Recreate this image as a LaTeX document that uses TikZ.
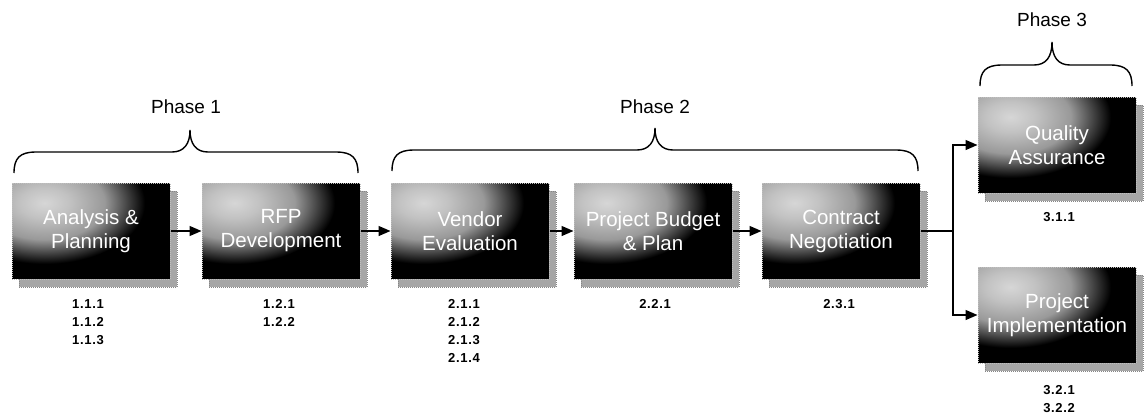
\documentclass[tikz,border=0pt]{standalone}
\usepackage{fontspec}
\setmainfont{Liberation Sans}
\newfontfamily\numfont[LetterSpace=5]{Liberation Sans}
\usetikzlibrary{arrows.meta,calc,patterns,shadows}

% soft light patch fading into black
\pgfdeclareradialshading{glow}{\pgfpoint{0bp}{0bp}}{%
  color(0bp)=(gray!32); color(5bp)=(gray!48); color(12bp)=(gray!80);
  color(20bp)=(black); color(50bp)=(black)}

% curly brace over a group of stages: left x, right x, tip x, bar y, tip y
\newcommand\phasebrace[5]{%
  \draw[bracestyle] (#1,#4+21) .. controls (#1,#4+6) and (#1+6,#4) .. (#1+22,#4)
    -- (#3-18,#4) .. controls (#3-6,#4) and (#3,#4-8) .. (#3,#5)
    .. controls (#3,#4-8) and (#3+6,#4) .. (#3+18,#4)
    -- (#2-22,#4) .. controls (#2-6,#4) and (#2,#4+6) .. (#2,#4+21);}

\begin{document}
\begin{tikzpicture}[x=1pt,y=-1pt,
  stage/.style={rectangle, minimum width=158pt, minimum height=96pt, inner sep=2pt,
    fill=black, draw=gray!50, densely dotted, line width=1pt,
    text=white, align=center, font=\fontsize{20.5}{24}\selectfont,
    general shadow={shadow xshift=7pt, shadow yshift=-8pt,
      fill=gray!70, draw=gray!95, densely dotted},
    path picture={\shade[shading=glow]
      ($(path picture bounding box.north west)+(22,14)$)
      ellipse [x radius=115, y radius=70];}},
  numlbl/.style={font=\numfont\bfseries\fontsize{13}{18}\selectfont,
    align=center, anchor=north, inner sep=0pt},
  phase/.style={font=\fontsize{19}{22}\selectfont, inner sep=0pt},
  bracestyle/.style={line width=1.4pt},
  conn/.style={line width=1.3pt, -{Triangle[length=12pt,width=10pt]}},
  link/.style={line width=1.3pt}]

\useasboundingbox (0,0) rectangle (1146,415);

% stages
\node[stage] (b1) at (91,231)   {Analysis \&\\Planning};
\node[stage] (b2) at (281,231)  {RFP\\Development};
\node[stage] (b3) at (470,231)  {Vendor\\Evaluation};
\node[stage] (b4) at (653,231)  {Project Budget\\\& Plan};
\node[stage] (b5) at (841,231)  {Contract\\Negotiation};
\node[stage] (qa) at (1057,145) {Quality\\Assurance};
\node[stage] (pi) at (1057,315) {Project\\Implementation};

% task numbers
\node[numlbl] (n1) at ($(b1.south)+(-3,20)$) {1.1.1\\1.1.2\\1.1.3};
\node[numlbl] (n2) at ($(b2.south)+(-2,20)$) {1.2.1\\1.2.2};
\node[numlbl] (n3) at ($(b3.south)+(-6,20)$) {2.1.1\\2.1.2\\2.1.3\\2.1.4};
\node[numlbl] (n4) at ($(b4.south)+(2,20)$)  {2.2.1};
\node[numlbl] (n5) at ($(b5.south)+(-2,20)$) {2.3.1};
\node[numlbl] (n6) at ($(qa.south)+(2,19)$)  {3.1.1};
\node[numlbl] (n7) at ($(pi.south)+(2,22)$)  {3.2.1\\3.2.2};

% flow
\draw[conn] (b1.east) -- (b2.west);
\draw[conn] (b2.east) -- (b3.west);
\draw[conn] (b3.east) -- (b4.west);
\draw[conn] (b4.east) -- (b5.west);
\coordinate (split) at (953,231);
\draw[link] (b5.east) -- (split);
\draw[conn] (split) |- (qa.west);
\draw[conn] (split) |- (pi.west);

% phases
\phasebrace{14}{358}{190}{152}{130}
\phasebrace{392}{918}{655}{150}{128}
\phasebrace{980}{1132}{1052}{65}{42}
\node[phase] (p1) at (186,107)  {Phase 1};
\node[phase] (p2) at (655,107)  {Phase 2};
\node[phase] (p3) at (1052,20)  {Phase 3};
\end{tikzpicture}
\end{document}
